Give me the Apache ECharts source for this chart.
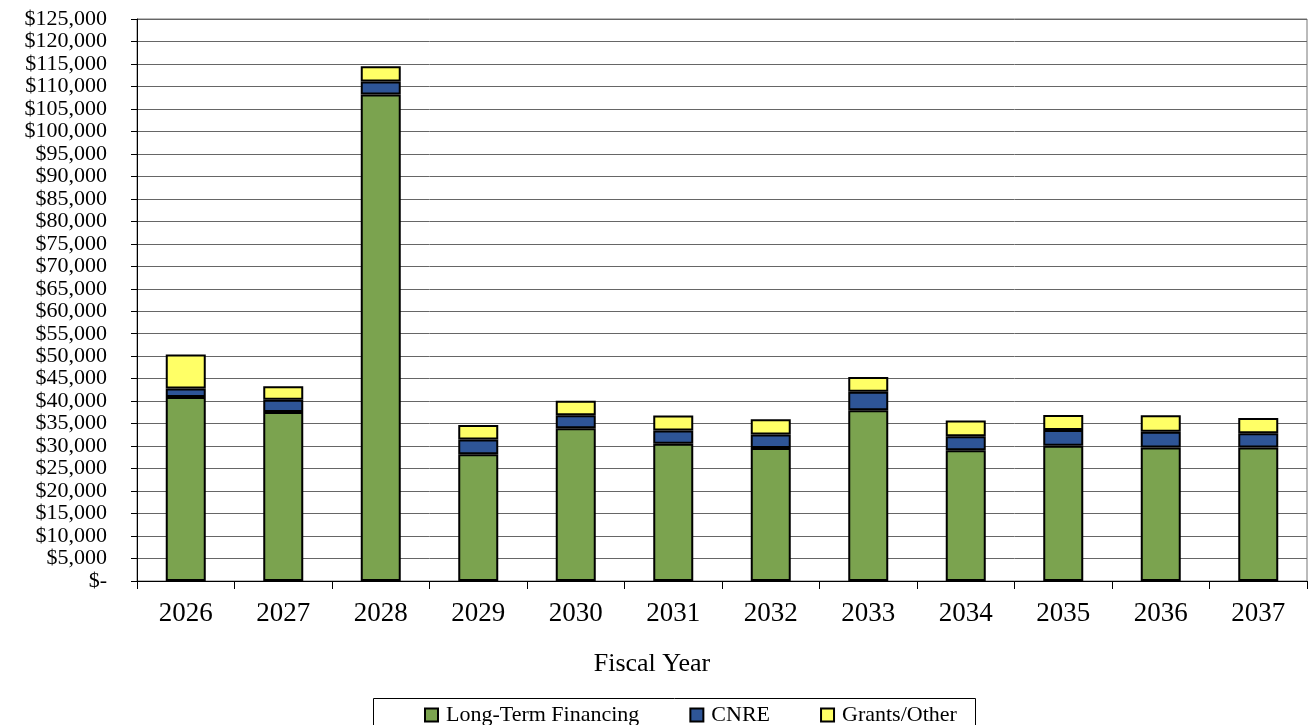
<!DOCTYPE html>
<html><head><meta charset="utf-8">
<script src="https://cdn.jsdelivr.net/npm/echarts@6/dist/echarts.min.js"></script>
<style>html,body{margin:0;padding:0;background:#fff}#c{width:1310px;height:725px}</style>
</head><body><div id="c"></div>
<script>
const categories = ['2026','2027','2028','2029','2030','2031','2032','2033','2034','2035','2036','2037'];
const longTermFinancing = [40900, 37600, 108200, 28200, 34000, 30500, 29600, 38000, 29100, 30100, 29700, 29700];
const cnre = [1900, 2700, 2900, 3300, 2850, 3000, 3000, 4100, 3100, 3500, 3500, 3150];
const grantsOther = [7600, 3000, 3400, 3200, 3250, 3300, 3400, 3300, 3500, 3300, 3650, 3400];
const seriesNames = ['Long-Term Financing', 'CNRE', 'Grants/Other'];
const xAxisTitle = 'Fiscal Year';
const colors = ['#7BA34F', '#2E5597', '#FFFF66'];

const font = 'Liberation Serif, Times New Roman, serif';
const chart = echarts.init(document.getElementById('c'));
const mk = (name, data, color) => ({
  name, type: 'bar', stack: 'total', data, barWidth: 40,
  itemStyle: { color, borderColor: '#000', borderWidth: 2 },
  emphasis: { disabled: true }
});
chart.setOption({
  animation: false,
  textStyle: { fontFamily: font },
  grid: { left: 137, right: 3, top: 19, bottom: 144, show: true, borderColor: '#777', borderWidth: 1 },
  xAxis: {
    type: 'category', data: categories,
    axisLine: { lineStyle: { color: '#000', width: 1 } },
    axisTick: { show: true, length: 8, lineStyle: { color: '#000' }, interval: 0 },
    axisLabel: { fontSize: 27, color: '#000', margin: 19, fontFamily: font, interval: 0 }
  },
  yAxis: {
    type: 'value', min: 0, max: 125000, interval: 5000,
    axisLine: { show: true, lineStyle: { color: '#000', width: 1 } },
    axisTick: { show: true, length: 6, lineStyle: { color: '#000' } },
    splitLine: { lineStyle: { color: '#666', width: 1 } },
    axisLabel: {
      fontSize: 22, lineHeight: 18, color: '#000', margin: 30, fontFamily: font,
      formatter: v => v === 0 ? '$-' : '$' + v.toLocaleString('en-US')
    }
  },
  legend: {
    data: seriesNames, left: 419, top: 699, itemGap: 50,
    itemWidth: 13, itemHeight: 13, icon: 'rect',
    itemStyle: { borderColor: '#000', borderWidth: 2 },
    textStyle: { fontSize: 22, color: '#000', fontFamily: font, padding: [0, 0, 0, 3] }
  },
  graphic: [{
    type: 'rect', shape: { x: 373.5, y: 698.5, width: 602, height: 40 },
    style: { fill: 'none', stroke: '#000', lineWidth: 1 }, silent: true
  }, {
    type: 'text', x: 652, y: 664,
    style: { text: xAxisTitle, font: '26px ' + font, fill: '#000', align: 'center', verticalAlign: 'middle' },
    silent: true
  }],
  series: [
    mk(seriesNames[0], longTermFinancing, colors[0]),
    mk(seriesNames[1], cnre, colors[1]),
    mk(seriesNames[2], grantsOther, colors[2])
  ]
});
</script></body></html>
